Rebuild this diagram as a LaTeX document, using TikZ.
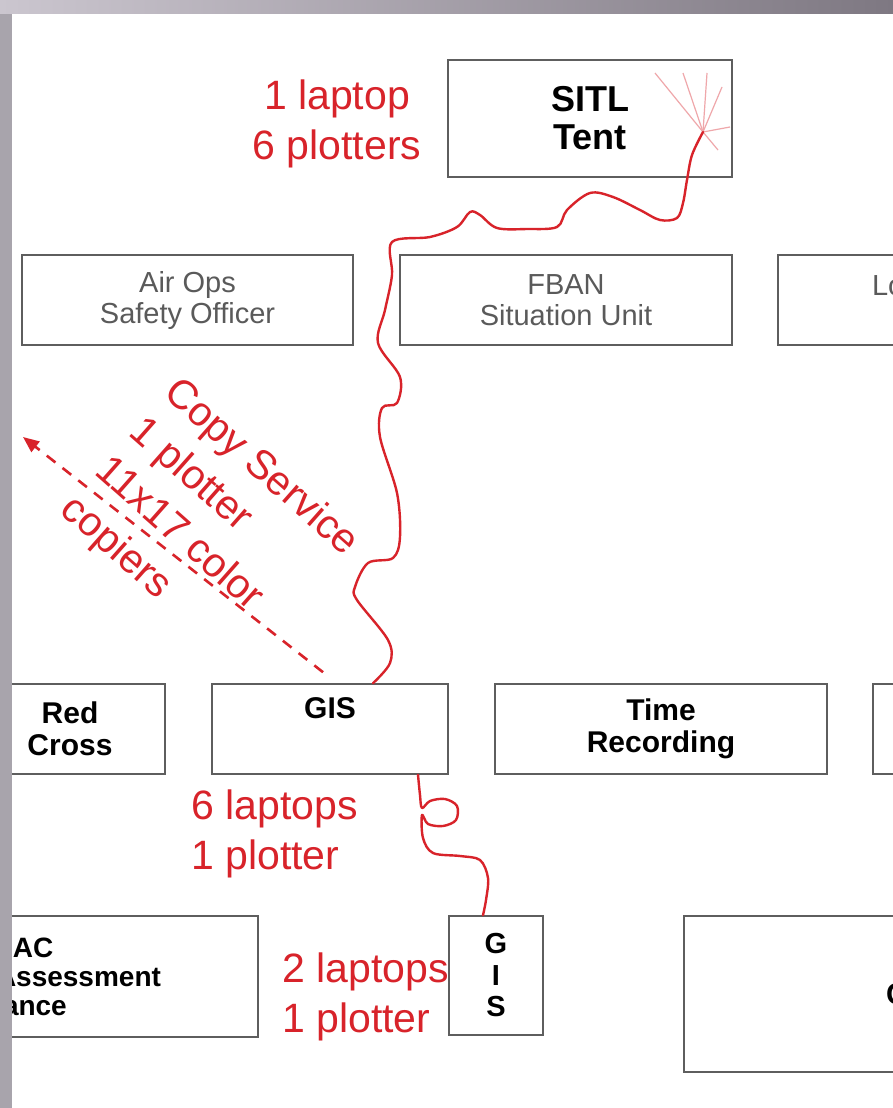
\documentclass[tikz,border=0pt]{standalone}
\usepackage{fontspec}
\setmainfont{Liberation Sans}
\usepackage{xcolor}
\definecolor{cRed}{HTML}{D8232A}
\definecolor{cBox}{HTML}{5E5E5E}
\definecolor{cText}{HTML}{5A5A5A}
\definecolor{cFrame}{HTML}{A8A4AC}
\definecolor{cFrameL}{HTML}{CBC6CF}
\definecolor{cFrameR}{HTML}{7E7882}
\usetikzlibrary{arrows.meta,calc}
\tikzset{
  unit-box/.style={draw=cBox,line width=1.6pt,fill=white,inner sep=0pt,
    align=center,text=black},
  unit-plain/.style={unit-box,text=cText,font=\fontsize{29}{31}\selectfont},
  unit-bold/.style={unit-box,font=\bfseries\fontsize{30}{32}\selectfont},
  note-red/.style={text=cRed,inner sep=0pt,font=\fontsize{41}{50}\selectfont},
  wire/.style={draw=cRed,line width=2.4pt,line cap=round,line join=round},
  wire-fan/.style={draw=cRed!40,line width=1.2pt},
  arrow-copy/.style={-{Triangle[length=16pt,width=13pt]},draw=cRed,
    line width=2.6pt,dash pattern=on 11pt off 9pt},
}

\begin{document}
\begin{tikzpicture}[x=1pt,y=-1pt]
  \useasboundingbox (0,0) rectangle (893,1108);
  \fill[white] (0,0) rectangle (893,1108);
  % top tent
  \node[unit-box,font=\bfseries\fontsize{36}{38}\selectfont,
    minimum width=284pt,minimum height=117pt] (sitl) at (590,118.5) {SITL\\Tent};
  \node[note-red,align=center] (sitlgear) at (337,124) {1 laptop\\6 plotters};
  % second row
  \node[unit-plain,minimum width=331pt,minimum height=90pt] (airops) at (187.5,300) {Air Ops\\Safety Officer};
  \node[unit-plain,minimum width=332pt,minimum height=90pt] (fban) at (566,300) {FBAN\\Situation Unit};
  \node[unit-plain,minimum width=332pt,minimum height=90pt,text width=144pt,
    inner xsep=94pt,align=left] (logs) at (944,300) {Logistics\\~};
  % third row
  \node[unit-bold,minimum width=190pt,minimum height=90pt] (redcross) at (70,729) {Red\\Cross};
  \node[unit-bold,minimum width=236pt,minimum height=90pt] (gis) at (330,729) {GIS\\\strut};
  \node[unit-bold,minimum width=332pt,minimum height=90pt] (timerec) at (661,729) {Time\\Recording};
  \node[unit-bold,minimum width=230pt,minimum height=90pt] (rowend) at (988,729) {};
  % fourth row
  \node[unit-bold,font=\bfseries\fontsize{28}{29}\selectfont,text width=262pt,
    minimum height=121pt,align=left] (assess) at (127,976.5)
    {\hspace*{17pt}AC\\Assessment\\\hspace*{7pt}ance};
  \node[unit-bold,font=\bfseries\fontsize{29}{31.5}\selectfont,
    minimum width=94pt,minimum height=119pt] (gisfield) at (496,975.5) {G\\I\\S};
  \node[unit-bold,text width=214pt,inner xsep=202pt,minimum height=156pt,
    align=left] (camp) at (993,994) {C};
  % red notes
  \node[note-red,anchor=west,align=left] (gisgear) at (191,833.5) {6 laptops\\1 plotter};
  \node[note-red,anchor=west,align=left] (fieldgear) at (282,997) {2 laptops\\1 plotter};
  \node[note-red,rotate=-41.5,anchor=north west,align=left,
    font=\fontsize{41}{52}\selectfont] (copysvc) at (182,373)
    {Copy Service\\1 plotter\\11x17 color\\copiers};
  % wires
  \coordinate (fan) at (703,132);
  \foreach \p in {(655,73),(683,73),(707,73),(722,87),(730,127),(718,150)}
    \draw[wire-fan] (fan) -- \p;
  \draw[wire] plot[smooth,tension=0.55] coordinates {($(gis.north)+(43,0)$)
    (390,663) (388,640) (357,600) (355,587) (368,563) (393,558) (400,537)
    (397,493) (380,437) (382,408) (397,403) (400,377) (378,343) (385,310)
    (392,275) (392,242) (430,237) (457,227) (470,212) (480,215) (497,228)
    (527,229) (557,227) (567,210) (590,193) (613,197) (640,210) (660,220)
    (677,218) (683,203) (687,180) (692,155) (fan)};
  \draw[wire] plot[smooth,tension=0.55] coordinates {($(gis.south)+(88,0)$)
    (420,795) (422,808) (430,801) (445,799) (457,806) (456,820) (443,826)
    (428,824) (422,815) (423,838) (433,853) (460,856) (480,860) (488,878)
    (486,900) ($(gisfield.north)+(-13,0)$)};
  \coordinate (copyend) at (23,437);
  \draw[arrow-copy] ($(gis.north)+(-7,-11)$) -- (copyend);
  % slide frame
  \fill[cFrame] (0,0) rectangle (12,1108);
  \shade[left color=cFrameL,right color=cFrameR] (0,0) rectangle (893,14);
\end{tikzpicture}
\end{document}
